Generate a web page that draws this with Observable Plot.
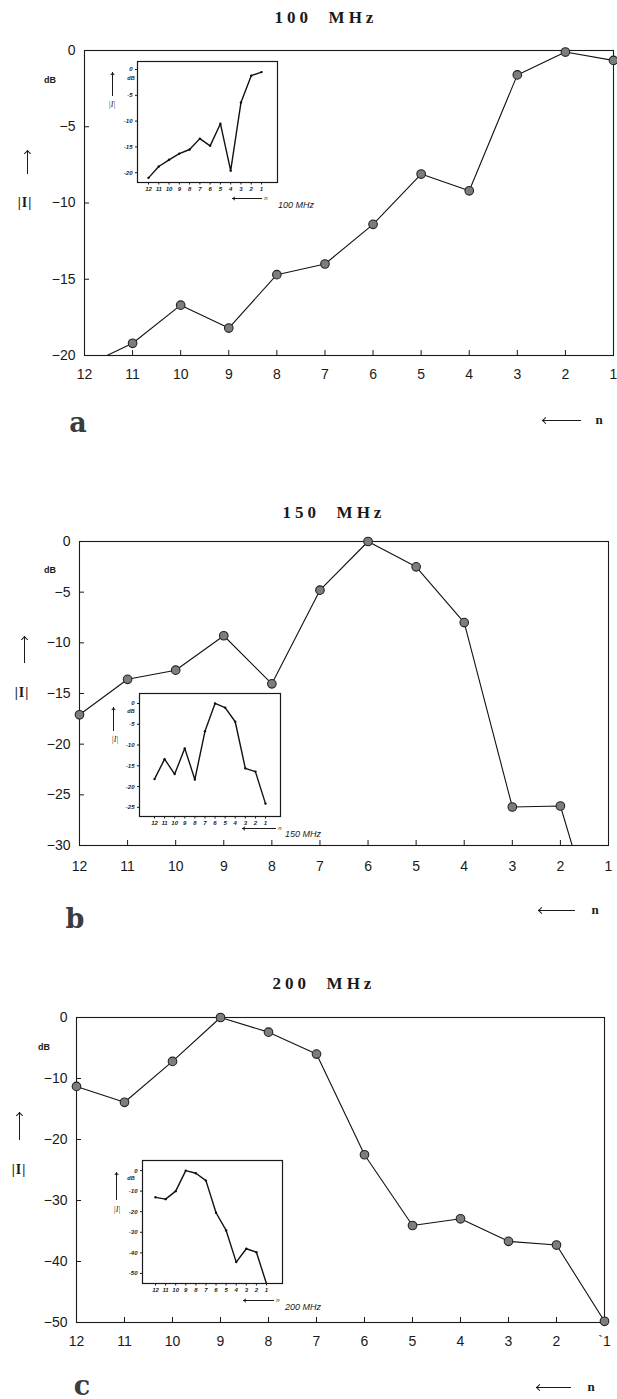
<!DOCTYPE html>
<html>
<head>
<meta charset="utf-8">
<script src="https://cdn.jsdelivr.net/npm/d3@7"></script>
<script src="https://cdn.jsdelivr.net/npm/@observablehq/plot@0.6"></script>
<style>
  html, body { margin: 0; padding: 0; background: #fff; }
  #page { position: relative; width: 617px; height: 1399px; background: #fff; overflow: hidden; }
  .abs { position: absolute; }
  .lbl { position: absolute; transform: translate(-50%, -50%); white-space: nowrap; line-height: 1; color: #1a1a1a; }
</style>
</head>
<body>
<div id="page"></div>
<script>
// ---------- data ----------
const n = [12, 11, 10, 9, 8, 7, 6, 5, 4, 3, 2, 1];
const xLabelsA = ["12", "11", "10", "9", "8", "7", "6", "5", "4", "3", "2", "1"];
const xLabelsC = ["12", "11", "10", "9", "8", "7", "6", "5", "4", "3", "2", "`1"];

// main curves |I| in dB
const db100 = [-20.7, -19.2, -16.7, -18.2, -14.7, -14.0, -11.4, -8.1, -9.2, -1.6, -0.1, -0.65];
const db150 = [-17.1, -13.6, -12.7, -9.3, -14.05, -4.8, 0, -2.5, -8.0, -26.2, -26.1, -42];
const db200 = [-11.3, -13.9, -7.2, 0, -2.4, -6.0, -22.5, -34.1, -33.0, -36.7, -37.3, -49.8];

// inset curves
const ins100 = [-21.0, -18.8, -17.5, -16.3, -15.5, -13.4, -14.8, -10.5, -19.6, -6.4, -1.2, -0.5];
const ins150 = [-18.2, -13.4, -17.0, -10.8, -18.3, -6.7, 0, -1.0, -4.4, -15.6, -16.4, -24.1];
const ins200 = [-13.0, -13.9, -10.0, 0, -1.3, -4.9, -20.5, -29.1, -44.5, -38.0, -39.7, -55];

// tick values
const yTicks100 = [0, -5, -10, -15, -20];
const yTicks150 = [0, -5, -10, -15, -20, -25, -30];
const yTicks200 = [0, -10, -20, -30, -40, -50];
const insTicks100 = [0, -5, -10, -15, -20];
const insTicks150 = [0, -5, -10, -15, -20, -25];
const insTicks200 = [0, -10, -20, -30, -40, -50];

const titles = ["100  MHz", "150  MHz", "200  MHz"];
const insetTitles = ["100 MHz", "150 MHz", "200 MHz"];
const letters = ["a", "b", "c"];

// ---------- helpers ----------
const page = document.getElementById("page");
const W = 617;

function place(el, left, top) {
  el.style.position = "absolute";
  el.style.left = left + "px";
  el.style.top = top + "px";
  page.appendChild(el);
}

function txt(s, x, y, css) {
  const d = document.createElement("div");
  d.className = "lbl";
  d.textContent = s;
  d.style.left = x + "px";
  d.style.top = y + "px";
  Object.assign(d.style, css || {});
  page.appendChild(d);
  return d;
}

function seg(x, y, w, h) {
  const d = document.createElement("div");
  d.className = "abs";
  Object.assign(d.style, {left: x + "px", top: y + "px", width: w + "px", height: h + "px", background: "#1a1a1a"});
  page.appendChild(d);
}

function head(tipX, tipY, s, dir, lw) {
  const d = document.createElement("div");
  d.className = "abs";
  const off = s / Math.SQRT2;
  let cx = tipX, cy = tipY, border;
  if (dir === "left") { cx = tipX + off; border = {borderLeft: lw + "px solid #1a1a1a", borderBottom: lw + "px solid #1a1a1a"}; }
  else { cy = tipY + off; border = {borderLeft: lw + "px solid #1a1a1a", borderTop: lw + "px solid #1a1a1a"}; }
  Object.assign(d.style, {left: (cx - s / 2) + "px", top: (cy - s / 2) + "px", width: s + "px", height: s + "px",
    boxSizing: "border-box", transform: "rotate(45deg)"}, border);
  page.appendChild(d);
}

function arrowLeft(x1, x2, y, s = 4, lw = 1) {
  seg(x1, y - lw / 2, x2 - x1, lw);
  head(x1, y, s, "left", lw);
}
function arrowUp(x, y1, y2, s = 4, lw = 1) {
  seg(x - lw / 2, y1, lw, y2 - y1);
  head(x, y1, s, "up", lw);
}

function mainPlot({values, yDomain, yTicks, H, mT, mB, mL, mR, xPad, xLabels}) {
  const data = n.map((k, i) => ({n: k, v: values[i]}));
  const fw = W - mL - mR, fh = H - mT - mB;
  const lab = new Map(n.map((k, i) => [k, xLabels[i]]));
  return Plot.plot({
    width: W, height: H,
    marginTop: mT, marginBottom: mB, marginLeft: mL, marginRight: mR,
    style: {fontFamily: "'Liberation Sans', Arial, sans-serif", color: "#1a1a1a", background: "transparent", overflow: "visible"},
    x: {domain: [12, 1], label: null},
    y: {domain: yDomain, label: null},
    marks: [
      Plot.frame({stroke: "#1a1a1a", strokeWidth: 1.1}),
      Plot.axisX({ticks: n, tickSize: 0, tickPadding: xPad, fontSize: 14, label: null, tickFormat: d => lab.get(d)}),
      Plot.axisY({ticks: yTicks, tickSize: 0, tickPadding: 9, fontSize: 14, label: null}),
      Plot.tickX(n.slice(1, -1), {x: d => d, insetTop: fh - 5, stroke: "#1a1a1a"}),
      Plot.tickY(yTicks.slice(1, -1), {y: d => d, insetRight: fw - 5, stroke: "#1a1a1a"}),
      Plot.line(data, {x: "n", y: "v", stroke: "#111", strokeWidth: 1.1, clip: true}),
      Plot.dot(data.filter(d => d.v >= yDomain[0]), {x: "n", y: "v", r: 4.3, fill: "#7d7d7d", stroke: "#222", strokeWidth: 1.1})
    ]
  });
}

function insetPlot({values, yDomain, yTicks, fw, fh, insetLeft, insetRight}) {
  const mL = 30, mR = 3, mT = 3, mB = 14;
  const data = n.map((k, i) => ({n: k, v: values[i]}));
  const fontOpts = {fontSize: 6, fontWeight: "bold", fontStyle: "italic"};
  return {mL, mT, svg: Plot.plot({
    width: mL + fw + mR, height: mT + fh + mB,
    marginTop: mT, marginBottom: mB, marginLeft: mL, marginRight: mR,
    style: {fontFamily: "'Liberation Sans', Arial, sans-serif", color: "#1a1a1a", background: "transparent", overflow: "visible"},
    x: {domain: [12, 1], insetLeft, insetRight, label: null},
    y: {domain: yDomain, label: null},
    marks: [
      Plot.frame({stroke: "#1a1a1a", strokeWidth: 1.2}),
      Plot.axisX({ticks: n, tickSize: 2.5, tickPadding: 2, label: null, ...fontOpts}),
      Plot.axisY({ticks: yTicks, tickSize: 2, tickPadding: 3, label: null, ...fontOpts, tickFormat: d => d === 0 ? "0" : "-" + Math.abs(d)}),
      Plot.line(data, {x: "n", y: "v", stroke: "#111", strokeWidth: 1.4, clip: true}),
      Plot.dot(data, {x: "n", y: "v", r: 1.2, fill: "#111", clip: true})
    ]
  })};
}

// ---------- panel layout ----------
const layout = [
  {values: db100, yDomain: [-20, 0], yTicks: yTicks100, top: 0, H: 400, mT: 50, mB: 45, mL: 84, mR: 4, xPad: 14, xLabels: xLabelsA,
   title: [326, 17], dB: [50, 80], I: [25, 203], up: [27, 150, 174], letter: [78, 422], n: [542, 581, 420, 599],
   inset: {values: ins100, yDomain: [-21.9, 1.55], yTicks: insTicks100, fl: 137, ft: 61, fw: 140, fh: 121, insetLeft: 11, insetRight: 16,
           up: [112, 72, 96], I: [112, 105], dB: [131, 79], arrow: [232, 262, 198], tt: [296, 205]}},
  {values: db150, yDomain: [-30, 0], yTicks: yTicks150, top: 500, H: 390, mT: 41, mB: 45, mL: 79, mR: 9, xPad: 16, xLabels: xLabelsA,
   title: [334, 512], dB: [50, 570], I: [22, 693], up: [24, 636, 663], letter: [75, 918], n: [538, 575, 910, 595],
   inset: {values: ins150, yDomain: [-27.2, 2.4], yTicks: insTicks150, fl: 139, ft: 693, fw: 141, fh: 123, insetLeft: 15, insetRight: 15,
           up: [113, 707, 731], I: [115, 740], dB: [131, 712], arrow: [242, 276, 828], tt: [303, 834]}},
  {values: db200, yDomain: [-50, 0], yTicks: yTicks200, top: 980, H: 390, mT: 37, mB: 48, mL: 76, mR: 13, xPad: 14, xLabels: xLabelsC,
   title: [324, 983], dB: [44, 1047], I: [19, 1170], up: [19, 1112, 1140], letter: [82, 1385], n: [536, 571, 1387, 591],
   inset: {values: ins200, yDomain: [-54.9, 4.9], yTicks: insTicks200, fl: 142, ft: 1160, fw: 140, fh: 123, insetLeft: 13, insetRight: 16,
           up: [116, 1172, 1200], I: [117, 1210], dB: [131, 1179], arrow: [243, 274, 1300], tt: [303, 1307]}}
];

layout.forEach((p, i) => {
  const svg = mainPlot(p);
  place(svg, 0, p.top);

  const ins = insetPlot(p.inset);
  place(ins.svg, p.inset.fl - ins.mL, p.inset.ft - ins.mT);

  // titles and annotations
  txt(titles[i], p.title[0], p.title[1], {fontFamily: "'Liberation Serif', 'DejaVu Serif', serif", fontWeight: "bold", fontSize: "17px", letterSpacing: "4px", whiteSpace: "pre"});
  txt("dB", p.dB[0], p.dB[1], {fontFamily: "'Liberation Sans', Arial, sans-serif", fontWeight: "bold", fontSize: "9px"});
  txt("|I|", p.I[0], p.I[1], {fontFamily: "'Liberation Serif', serif", fontWeight: "bold", fontSize: "14px", letterSpacing: "1px"});
  arrowUp(p.up[0], p.up[1], p.up[2], 5, 1);
  txt(letters[i], p.letter[0], p.letter[1], {fontFamily: "'DejaVu Serif', serif", fontWeight: "bold", fontSize: "27px", color: "#3c3c3c"});
  arrowLeft(p.n[0], p.n[1], p.n[2], 5, 1);
  txt("n", p.n[3], p.n[2] - 1, {fontFamily: "'Liberation Serif', serif", fontWeight: "bold", fontSize: "13px"});

  // inset annotations
  const q = p.inset;
  arrowUp(q.up[0], q.up[1], q.up[2], 3, 1);
  txt("|I|", q.I[0], q.I[1], {fontFamily: "'Liberation Serif', serif", fontStyle: "italic", fontSize: "8px"});
  txt("dB", q.dB[0], q.dB[1], {fontFamily: "'Liberation Sans', Arial, sans-serif", fontWeight: "bold", fontStyle: "italic", fontSize: "5.5px"});
  arrowLeft(q.arrow[0], q.arrow[1], q.arrow[2], 3, 1);
  txt("n", q.arrow[1] + 4, q.arrow[2], {fontFamily: "'Liberation Sans', Arial, sans-serif", fontStyle: "italic", fontSize: "6px"});
  txt(insetTitles[i], q.tt[0], q.tt[1], {fontFamily: "'Liberation Sans', Arial, sans-serif", fontStyle: "italic", fontSize: "9px"});
});
</script>
</body>
</html>
